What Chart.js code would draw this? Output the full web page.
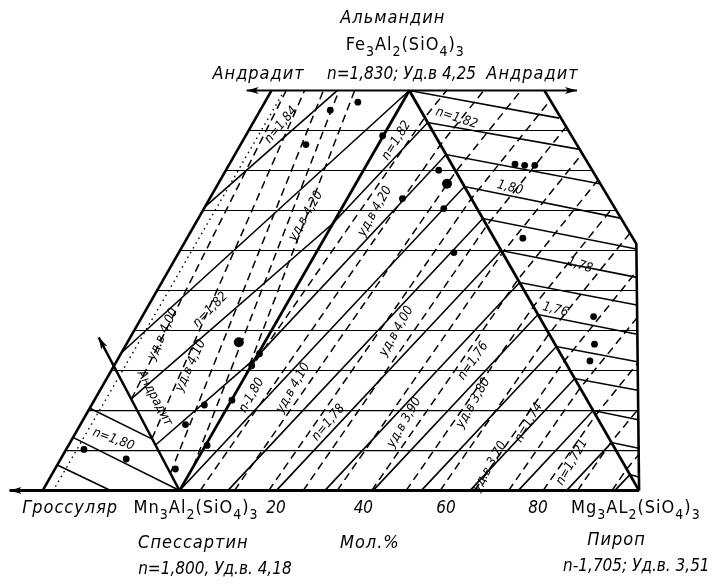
<!DOCTYPE html>
<html>
<head>
<meta charset="utf-8">
<title>Гранаты: показатель преломления и удельный вес</title>
<script src="https://cdn.jsdelivr.net/npm/chart.js@4.4.1/dist/chart.umd.min.js"></script>
<style>
  html, body { margin: 0; padding: 0; background: #ffffff; }
  canvas { display: block; }
</style>
</head>
<body>
<canvas id="diagram" width="723" height="588"></canvas>
<script>
// x — position along the base, mol.% (0 = Mn3Al2(SiO4)3, 100 = Mg3Al2(SiO4)3)
// y — share of Fe3Al2(SiO4)3, %, 100 at the upper vertex

// frame
const baseAxis = [[-37, 0], [100, 0]];
const topAxis = [[14.6, 100], [86.5, 100]];
const sideSpessartineAlmandine = [[0, 0], [50, 100]];
const sideAlmandinePyrope = [[50, 100], [100, 0]];
const outerLeft = [[20, 100], [-29.8, 0]];
const outerRight = [[79.4, 100], [99.4, 61.7], [100, 0]];
const andraditeAxis = [[0, 0], [-17.6, 38.3]];
const dottedGuide = [[-27, 1], [22.3, 99]];

// horizontal rulings every 10 %
const gridLevels = [10, 20, 30, 40, 50, 60, 70, 80, 90];
const gridLeftEnds = [-25, -20, -15, -10, -5, 0, 5, 10, 15];
const gridRightEnds = [99.9, 99.8, 99.7, 99.6, 99.5, 99.4, 95.1, 89.8, 84.6];

// lines of equal refractive index n (solid)
const refractionContours = [
  [[34.3, 100], [5.4, 70.8]],                               // 1,84
  [[-12.7, 34.4], [50, 100], [82.6, 93.1]],                 // 1,83
  [[-10.5, 22.9], [33.3, 66.7], [54, 92], [87.1, 85.3]],    // 1,82
  [[-5.2, 11.4], [16.7, 33.3], [58, 84], [91.4, 76.7]],     // 1,81
  [[-23.2, 13.3], [0, 0], [62, 76], [95.9, 68.1]],          // 1,80
  [[10.5, 0], [66, 68], [99.4, 60.4]],                      // 1,79
  [[21.05, 0], [70, 60], [99.5, 53.3]],                     // 1,78
  [[31.6, 0], [74, 52], [99.5, 46.4]],                      // 1,77
  [[42.1, 0], [78, 44], [99.6, 39.1]],                      // 1,76
  [[52.6, 0], [82, 36], [99.6, 32.2]],                      // 1,75
  [[63.2, 0], [86, 28], [99.7, 25.1]],                      // 1,74
  [[73.7, 0], [90, 20], [99.8, 17.7]],                      // 1,73
  [[84.2, 0], [94, 12], [99.9, 10.6]],                      // 1,72
  [[94.7, 0], [98, 4], [99.9, 3.4]],                        // 1,71
  [[-19.5, 20.6], [-5.8, 12.8]],
  [[-26.6, 6.4], [-15, 0]]
];

// lines of equal specific gravity, уд.в. (dashed)
const densityContours = [
  [[-10.5, 22.8], [23.2, 100]],                             // 4,00
  [[-6, 13], [27.2, 100]],                                  // 4,05
  [[-2, 4.3], [31.3, 100]],                                 // 4,10
  [[3, 6], [34.7, 100]],                                    // 4,15
  [[38.1, 100], [14.3, 28.6], [53.4, 93.3], [58.1, 100]],   // 4,20
  [[4.48, 0], [56.8, 86.5], [66.2, 100]],                   // 4,15
  [[11.94, 0], [60.1, 79.7], [74.3, 100]],                  // 4,10
  [[19.4, 0], [63.5, 73], [80.7, 97.6]],                    // 4,05
  [[26.9, 0], [66.9, 66.3], [84.1, 90.9]],                  // 4,00
  [[34.3, 0], [70.3, 59.5], [87.6, 84.2]],                  // 3,95
  [[41.8, 0], [73.6, 52.7], [91.1, 77.7]],                  // 3,90
  [[49.3, 0], [77, 46], [94.6, 71.2]],                      // 3,85
  [[56.7, 0], [80.4, 39.2], [98.1, 64.5]],                  // 3,80
  [[64.2, 0], [83.8, 32.5], [99.6, 55]],                    // 3,75
  [[71.6, 0], [87.2, 25.7], [99.7, 43.4]],                  // 3,70
  [[79.1, 0], [90.6, 18.9], [99.8, 32]],                    // 3,65
  [[86.6, 0], [93.9, 12.1], [99.9, 20.5]],                  // 3,60
  [[94.1, 0], [97.3, 5.4], [100, 9.1]]                      // 3,55
];

// analysed garnets
const samplePoints = [
  [38.8, 97.1], [32.8, 95.1], [27.5, 86.5], [44.2, 88.7], [48.5, 73],
  [56.4, 80.1], [57.5, 70.5], [73, 81.6], [75.1, 81.3], [77.3, 81.3],
  [74.7, 63.1], [90.1, 43.5], [90.3, 36.6], [89.3, 32.4], [15.7, 31.2],
  [17.4, 34.2], [11.4, 22.6], [5.4, 21.4], [1.3, 16.5], [6, 11.3],
  [-11.6, 7.9], [-20.8, 10.3], [-0.9, 5.4], [59.7, 59.5]
];
const largeSamplePoints = [[58.2, 76.7], [12.9, 37.1]];

// base scale
const baseTickValues = [20, 40, 60, 80];
const baseTickShift = [1, 0, -2, -2];

const XMIN = -37.98, XMAX = 117.17, YMIN = -23.1, YMAX = 121.38;

const FONT = '"DejaVu Sans Condensed", "Liberation Sans Narrow", "DejaVu Sans", sans-serif';

// text styles: size, italic, letter spacing
const textStyles = {
  word: { size: 18, italic: true, spacing: 1 },
  name: { size: 17, italic: true, spacing: 0 },
  formula: { size: 18, italic: false, spacing: 1 },
  tick: { size: 17, italic: true, spacing: 0 },
  mark: { size: 13, italic: true, spacing: 0 }
};

// captions: position in diagram units, rotation in degrees
const captions = [
  { t: 'Альмандин', x: 46.4, y: 118, r: 0, kind: 'word' },
  { t: 'Fe_3Al_2(SiO_4)_3', x: 49.1, y: 111.2, r: 0, kind: 'formula' },
  { t: 'n=1,830; Уд.в 4,25', x: 48.3, y: 104, r: 0, kind: 'name' },
  { t: 'Андрадит', x: 17.2, y: 104, r: 0, kind: 'word' },
  { t: 'Андрадит', x: 76.8, y: 104, r: 0, kind: 'word' },
  { t: 'Гроссуляр', x: -23.8, y: -4.4, r: 0, kind: 'word' },
  { t: 'Mn_3Al_2(SiO_4)_3', x: 3.6, y: -4.4, r: 0, kind: 'formula' },
  { t: 'Mg_3AL_2(SiO_4)_3', x: 99.3, y: -4.4, r: 0, kind: 'formula' },
  { t: 'Спессартин', x: 3, y: -13.3, r: 0, kind: 'word' },
  { t: 'n=1,800, Уд.в. 4,18', x: 7.7, y: -19.7, r: 0, kind: 'name' },
  { t: 'Мол.%', x: 41.4, y: -13.3, r: 0, kind: 'word' },
  { t: 'Пироп', x: 95.1, y: -12.5, r: 0, kind: 'word' },
  { t: 'n-1,705; Уд.в. 3,51', x: 99.4, y: -18.9, r: 0, kind: 'name' },

  { t: 'n=1,84', x: 22.1, y: 91.4, r: -50, kind: 'mark' },
  { t: 'n=1,82', x: 47.2, y: 87.5, r: -58, kind: 'mark' },
  { t: 'n=1,82', x: 60.3, y: 93.1, r: 18, kind: 'mark' },
  { t: '1,80', x: 71.9, y: 75.7, r: 15, kind: 'mark' },
  { t: '1,78', x: 87.1, y: 56.3, r: 18, kind: 'mark' },
  { t: '1,76', x: 81.8, y: 45.2, r: 15, kind: 'mark' },
  { t: 'уд.в 4,20', x: 27.5, y: 68.6, r: -60, kind: 'mark' },
  { t: 'уд.в 4,20', x: 42.5, y: 69.8, r: -60, kind: 'mark' },
  { t: 'уд.в 4,00', x: -3.6, y: 39.1, r: -65, kind: 'mark' },
  { t: 'n=1,82', x: 6.7, y: 45.2, r: -45, kind: 'mark' },
  { t: 'уд.в 4,10', x: 2.4, y: 31.2, r: -65, kind: 'mark' },
  { t: 'n-1,80', x: 15.7, y: 23.8, r: -60, kind: 'mark' },
  { t: 'уд.в 4,10', x: 24.7, y: 25.6, r: -60, kind: 'mark' },
  { t: 'n=1,78', x: 32.4, y: 17, r: -50, kind: 'mark' },
  { t: 'уд.в 4,00', x: 47.2, y: 39.8, r: -60, kind: 'mark' },
  { t: 'уд.в 3,90', x: 48.9, y: 17, r: -60, kind: 'mark' },
  { t: 'n=1,76', x: 63.9, y: 32.4, r: -55, kind: 'mark' },
  { t: 'уд.в 3,80', x: 63.9, y: 21.9, r: -60, kind: 'mark' },
  { t: 'n=1,74', x: 76, y: 17, r: -60, kind: 'mark' },
  { t: 'уд.в 3,70', x: 67.5, y: 6, r: -60, kind: 'mark' },
  { t: 'n=1,721', x: 85.4, y: 7.1, r: -60, kind: 'mark' },
  { t: 'n=1,80', x: -14.4, y: 12.8, r: 20, kind: 'mark' },
  { t: 'Андрадит', x: -5.4, y: 23.1, r: 62, kind: 'mark' }
];

const arrows = [
  { from: [-30, 0], to: [-37, 0] },
  { from: [20, 100], to: [14.6, 100] },
  { from: [80, 100], to: [86.5, 100] },
  { from: [-10, 21.8], to: [-17.6, 38.3] }
];

function toXY(points) {
  return points.map(p => ({ x: p[0], y: p[1] }));
}

function polyline(points, width, dash) {
  return {
    data: toXY(points),
    showLine: true,
    borderColor: '#000',
    borderWidth: width,
    borderDash: dash || [],
    pointRadius: 0,
    fill: false,
    tension: 0,
    clip: false
  };
}

const datasets = [];
gridLevels.forEach((lvl, i) => {
  datasets.push(polyline([[gridLeftEnds[i], lvl], [gridRightEnds[i], lvl]], 1.1));
});
datasets.push(polyline(dottedGuide, 1.4, [1.5, 4]));
densityContours.forEach(c => datasets.push(polyline(c, 1.5, [8, 5])));
refractionContours.forEach(c => datasets.push(polyline(c, 1.6)));
datasets.push(polyline(topAxis, 2));
datasets.push(polyline(baseAxis, 3));
datasets.push(polyline(sideSpessartineAlmandine, 2.8));
datasets.push(polyline(sideAlmandinePyrope, 2.8));
datasets.push(polyline(outerLeft, 2.6));
datasets.push(polyline(outerRight, 2.6));
datasets.push(polyline(andraditeAxis, 2.4));
datasets.push({
  data: toXY(samplePoints), showLine: false, pointRadius: 3.4,
  pointBackgroundColor: '#000', pointBorderWidth: 0, clip: false
});
datasets.push({
  data: toXY(largeSamplePoints), showLine: false, pointRadius: 5,
  pointBackgroundColor: '#000', pointBorderWidth: 0, clip: false
});

function drawRich(ctx, text, style) {
  const parts = [];
  let buf = '';
  for (let i = 0; i < text.length; i++) {
    if (text[i] === '_') {
      if (buf) { parts.push({ s: buf, sub: false }); buf = ''; }
      parts.push({ s: text[i + 1], sub: true });
      i++;
    } else {
      buf += text[i];
    }
  }
  if (buf) parts.push({ s: buf, sub: false });
  const it = style.italic ? 'italic ' : '';
  const mainFont = it + style.size + 'px ' + FONT;
  const subFont = it + Math.round(style.size * 0.8) + 'px ' + FONT;
  ctx.letterSpacing = style.spacing + 'px';
  let total = 0;
  parts.forEach(p => {
    ctx.font = p.sub ? subFont : mainFont;
    p.w = ctx.measureText(p.s).width;
    total += p.w;
  });
  let x = -total / 2;
  ctx.textAlign = 'left';
  ctx.textBaseline = 'middle';
  parts.forEach(p => {
    ctx.font = p.sub ? subFont : mainFont;
    ctx.fillText(p.s, x, p.sub ? style.size * 0.38 : 0);
    x += p.w;
  });
  ctx.letterSpacing = '0px';
}

const inkPlugin = {
  id: 'ink',
  afterDatasetsDraw(chart) {
    const ctx = chart.ctx;
    const sx = chart.scales.x, sy = chart.scales.y;
    ctx.save();
    ctx.fillStyle = '#000';
    ctx.strokeStyle = '#000';

    arrows.forEach(a => {
      const x0 = sx.getPixelForValue(a.from[0]), y0 = sy.getPixelForValue(a.from[1]);
      const x1 = sx.getPixelForValue(a.to[0]), y1 = sy.getPixelForValue(a.to[1]);
      const ang = Math.atan2(y1 - y0, x1 - x0);
      ctx.save();
      ctx.translate(x1, y1);
      ctx.rotate(ang);
      ctx.beginPath();
      ctx.moveTo(0, 0);
      ctx.lineTo(-12, -3.5);
      ctx.lineTo(-9, 0);
      ctx.lineTo(-12, 3.5);
      ctx.closePath();
      ctx.fill();
      ctx.restore();
    });

    baseTickValues.forEach((v, i) => {
      const px = sx.getPixelForValue(v + baseTickShift[i]);
      const py = sy.getPixelForValue(-4.4);
      ctx.save();
      ctx.translate(px, py);
      drawRich(ctx, String(v), textStyles.tick);
      ctx.restore();
    });

    captions.forEach(c => {
      const px = sx.getPixelForValue(c.x), py = sy.getPixelForValue(c.y);
      ctx.save();
      ctx.translate(px, py);
      ctx.rotate(c.r * Math.PI / 180);
      drawRich(ctx, c.t, textStyles[c.kind]);
      ctx.restore();
    });
    ctx.restore();
  }
};

new Chart(document.getElementById('diagram'), {
  type: 'scatter',
  data: { datasets },
  options: {
    responsive: false,
    animation: false,
    events: [],
    layout: { padding: 0 },
    plugins: { legend: { display: false }, tooltip: { enabled: false } },
    scales: {
      x: { type: 'linear', display: false, min: XMIN, max: XMAX },
      y: { type: 'linear', display: false, min: YMIN, max: YMAX }
    }
  },
  plugins: [inkPlugin]
});
</script>
</body>
</html>
